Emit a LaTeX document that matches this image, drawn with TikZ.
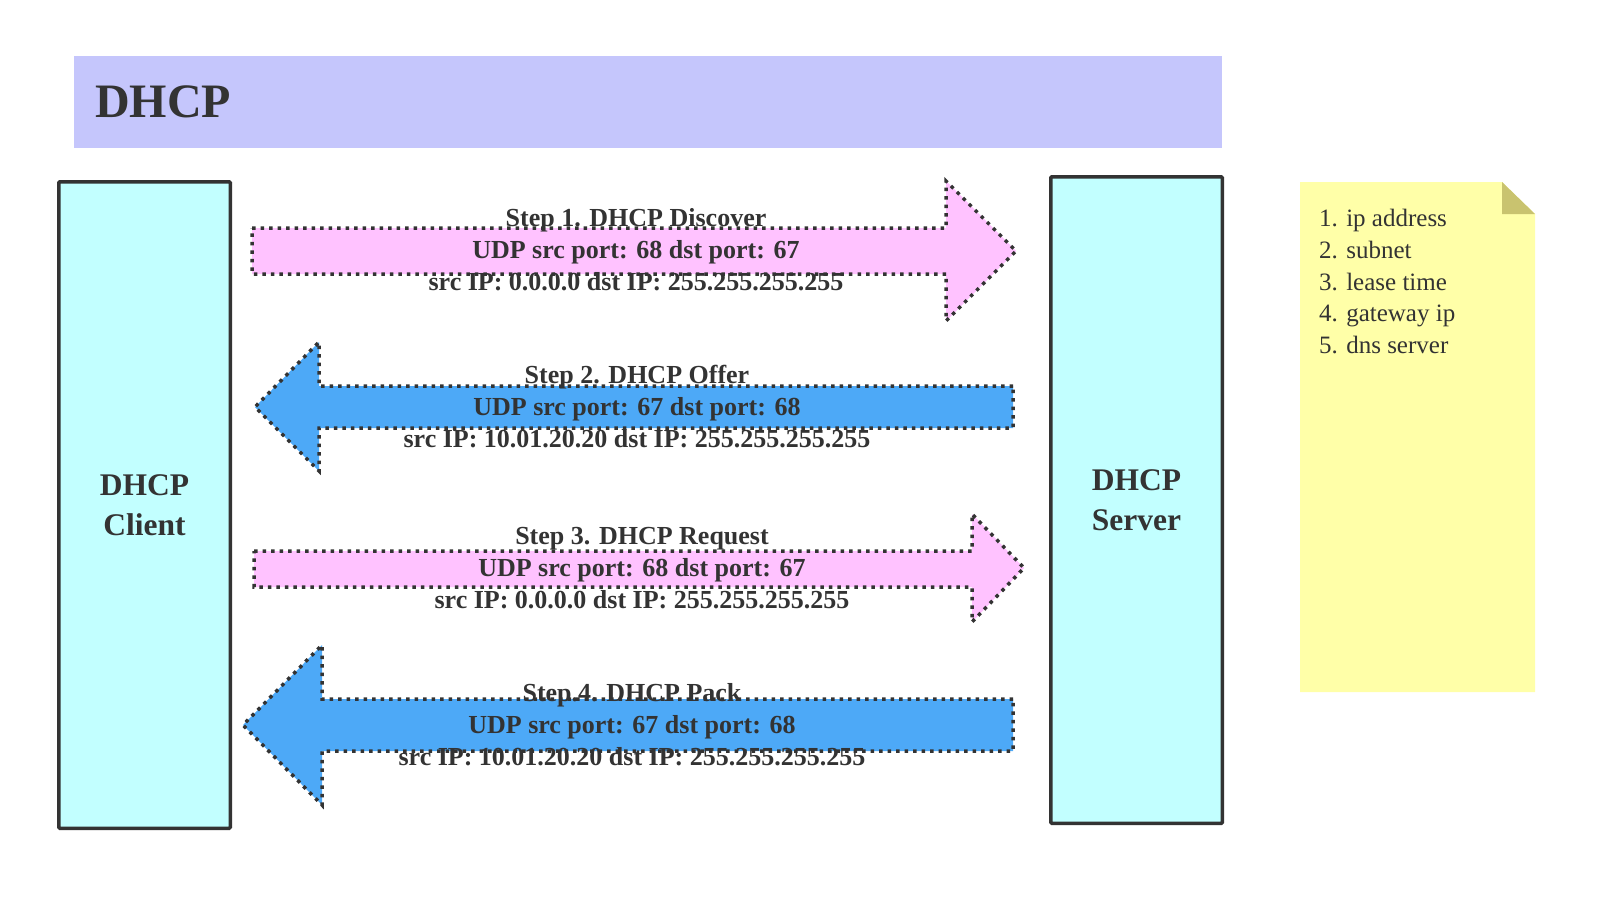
\documentclass[tikz,border=0pt]{standalone}
\usepackage{fontspec}
\setmainfont{Liberation Serif}
\definecolor{ink}{HTML}{333333}
\definecolor{titlebg}{HTML}{C5C6FC}
\definecolor{boxfill}{HTML}{C2FFFF}
\definecolor{pinkfill}{HTML}{FFC2FF}
\definecolor{bluefill}{HTML}{4DA9F7}
\definecolor{notefill}{HTML}{FFFFA8}
\definecolor{notefold}{HTML}{C9C36F}
\begin{document}
\begin{tikzpicture}[x=1pt,y=-1pt,
  hostbox/.style={draw=ink, line width=3.5pt, fill=boxfill, rounded corners=1pt,
    text=ink, align=center, font=\fontsize{31.5}{40}\selectfont\bfseries, inner sep=0pt},
  blockarrow/.style={draw=ink, line width=3.5pt, dash pattern=on 3.5pt off 5pt, line join=miter},
  msg/.style={text=ink, font=\fontsize{26}{32}\selectfont\bfseries, align=center, inner sep=0pt},
  notetext/.style={text=ink, font=\fontsize{25}{32}\selectfont, inner sep=0pt, anchor=base west}]
\useasboundingbox (0,0) rectangle (1604,922);
% title
\node[fill=titlebg, minimum width=1148pt, minimum height=92pt, inner sep=0pt] (titlebar) at (648,102) {};
\node[text=ink, font=\fontsize{48}{56}\selectfont\bfseries, anchor=west, inner sep=0pt] (title) at (95,102) {DHCP};
% hosts
\node[hostbox, minimum width=171.5pt, minimum height=646.5pt] (client) at (144.5,505) {DHCP\\Client};
\node[hostbox, minimum width=171.5pt, minimum height=646.5pt] (server) at (1136.5,500) {DHCP\\Server};
% note
\fill[notefill] (1300,182) -- (1502,182) -- (1535,214) -- (1535,692) -- (1300,692) -- cycle;
\fill[notefold] (1502,182) -- (1502,214) -- (1535,214) -- cycle;
\node[notetext] (n1) at (1319,226) {1. ip address};
\node[notetext] (n2) at (1319,258) {2. subnet};
\node[notetext] (n3) at (1319,290) {3. lease time};
\node[notetext] (n4) at (1319,321) {4. gateway ip};
\node[notetext] (n5) at (1319,353) {5. dns server};
% arrows
\draw[blockarrow, fill=pinkfill] (252,228) -- (946,228) -- (946,181) -- (1016,251) -- (946,321) -- (946,274) -- (252,274) -- cycle;
\draw[blockarrow, fill=bluefill] (1013,386) -- (319,386) -- (319,342) -- (255,407) -- (319,471) -- (319,428) -- (1013,428) -- cycle;
\draw[blockarrow, fill=pinkfill] (254,551) -- (972,551) -- (972,514) -- (1024,568) -- (972,622) -- (972,587) -- (254,587) -- cycle;
\draw[blockarrow, fill=bluefill] (1013,699) -- (322,699) -- (322,645) -- (243,725) -- (322,805) -- (322,751) -- (1013,751) -- cycle;
\node[msg] (m1) at (636,250) {Step 1. DHCP Discover\\UDP src port: 68 dst port: 67\\src IP: 0.0.0.0 dst IP: 255.255.255.255};
\node[msg] (m2) at (637,407) {Step 2. DHCP Offer\\UDP src port: 67 dst port: 68\\src IP: 10.01.20.20 dst IP: 255.255.255.255};
\node[msg] (m3) at (642,568) {Step 3. DHCP Request\\UDP src port: 68 dst port: 67\\src IP: 0.0.0.0 dst IP: 255.255.255.255};
\node[msg] (m4) at (632,725) {Step.4. DHCP Pack\\UDP src port: 67 dst port: 68\\src IP: 10.01.20.20 dst IP: 255.255.255.255};
\end{tikzpicture}
\end{document}
